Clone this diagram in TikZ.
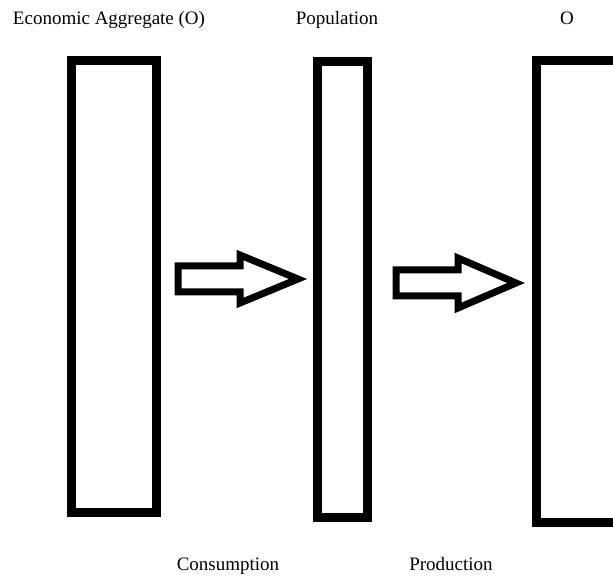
\documentclass[tikz,border=0pt]{standalone}
\usepackage{fontspec}
\setmainfont{Liberation Serif}
\usetikzlibrary{arrows.meta}

\begin{document}
\begin{tikzpicture}[x=1pt,y=-1pt,
    bar/.style={draw,line width=9pt,inner sep=0pt},
    blockarrow/.style={draw,line width=7pt},
    txt/.style={anchor=base,inner sep=0pt,font=\fontsize{19}{22}\selectfont}]
    \clip (0,0) rectangle (613,577);

    \node[bar,minimum width=85pt,minimum height=452pt] (econ) at (114,286.5) {};
    \node[bar,minimum width=50pt,minimum height=456pt] (pop) at (342.5,289.5) {};
    \node[bar,minimum width=90pt,minimum height=462pt] (out) at (581.5,291.5) {};

    \node[txt] (econtxt) at (109,25) {Economic Aggregate (O)};
    \node[txt] (poptxt) at (337,25) {Population};
    \node[txt] (outtxt) at (567,25) {O};
    \node[txt] (cons) at (228,570) {Consumption};
    \node[txt] (prod) at (451,570) {Production};

    \coordinate (a1) at (178,266);
    \coordinate (a2) at (396,270);
    \draw[blockarrow] (a1) -- ++(62,0) -- ++(0,-11) -- ++(58,24) -- ++(-58,24)
        -- ++(0,-11) -- ++(-62,0) -- cycle;
    \draw[blockarrow] (a2) -- ++(62,0) -- ++(0,-12) -- ++(58,25) -- ++(-58,25)
        -- ++(0,-12) -- ++(-62,0) -- cycle;
\end{tikzpicture}
\end{document}
